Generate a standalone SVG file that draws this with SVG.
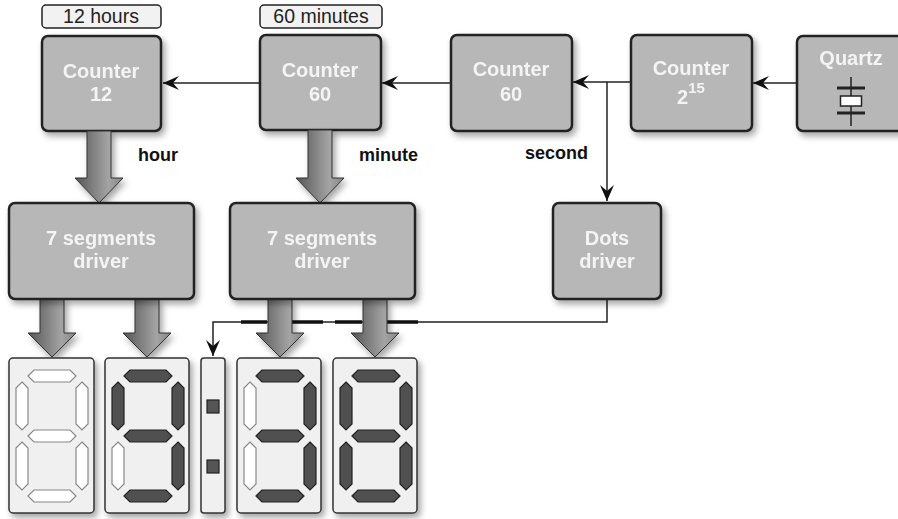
<svg xmlns="http://www.w3.org/2000/svg" width="898" height="519" viewBox="0 0 898 519">
<defs>
<style>
.box{fill:#b7b7b7;stroke:#222;stroke-width:2.5}
.lbl{fill:#f2f2f2;stroke:#222;stroke-width:1.5}
.bt{font-family:"Liberation Sans",Arial,sans-serif;font-weight:bold;font-size:20px;fill:#f4f4f4;text-anchor:middle}
.tt{font-family:"Liberation Sans",Arial,sans-serif;font-size:19.5px;fill:#222;text-anchor:middle}
.st{font-family:"Liberation Sans",Arial,sans-serif;font-weight:bold;font-size:18px;fill:#111}
.con{fill:none;stroke:#222;stroke-width:1.5}
.thk{stroke:#111;stroke-width:3.5}
.big{fill:url(#ag);stroke:#333;stroke-width:1}
.disp{fill:#f0f0f0;stroke:#333;stroke-width:1.5}
.on{fill:#505050;stroke:#222;stroke-width:1.2}
.off{fill:#ffffff;stroke:#888;stroke-width:1.2}
.dot{fill:#555;stroke:#222;stroke-width:1.2}
</style>
<filter id="sh" x="-20%" y="-20%" width="150%" height="150%">
<feDropShadow dx="3" dy="4" stdDeviation="3" flood-color="#000" flood-opacity="0.35"/>
</filter>
<linearGradient id="ag" x1="0" y1="0" x2="1" y2="0">
<stop offset="0" stop-color="#555"/>
<stop offset="0.7" stop-color="#a4a4a4"/>
<stop offset="1" stop-color="#858585"/>
</linearGradient>
<marker id="ah" markerUnits="userSpaceOnUse" markerWidth="20" markerHeight="20" viewBox="-18 -9 20 18" refX="0" refY="0" orient="auto">
<path d="M0,0 L-16,-7 L-10,0 L-16,7 Z" fill="#111"/>
</marker>
<polygon id="hs" points="0,6 6,0 42,0 48,6 42,12 6,12"/>
<polygon id="vs" points="6,0 12,6 12,42 6,48 0,42 0,6"/>
</defs>

<g id="connectors">
<line class="con" x1="797" y1="83" x2="753" y2="83" marker-end="url(#ah)"/>
<line class="con" x1="631" y1="82" x2="573" y2="82" marker-end="url(#ah)"/>
<line class="con" x1="607" y1="82" x2="607" y2="201" marker-end="url(#ah)"/>
<line class="con" x1="451" y1="83" x2="382" y2="83" marker-end="url(#ah)"/>
<line class="con" x1="260" y1="83" x2="163" y2="83" marker-end="url(#ah)"/>
<path class="con" d="M607,299 V322 H213 V356" marker-end="url(#ah)"/>
<line class="thk" x1="241" y1="322" x2="267" y2="322"/>
<line class="thk" x1="291" y1="322" x2="323" y2="322"/>
<line class="thk" x1="335" y1="322" x2="362" y2="322"/>
<line class="thk" x1="386" y1="322" x2="418" y2="322"/>
</g>

<g id="label-12hours">
<rect class="lbl" x="42" y="5" width="119" height="23" rx="4"/>
<text class="tt" x="101" y="23">12 hours</text>
</g>
<g id="label-60minutes">
<rect class="lbl" x="260" y="5" width="122" height="23" rx="4"/>
<text class="tt" x="321" y="23">60 minutes</text>
</g>

<g id="counter12" filter="url(#sh)">
<rect class="box" x="42" y="36" width="119" height="95" rx="6"/>
<text class="bt" x="101" y="78">Counter</text>
<text class="bt" x="101" y="101">12</text>
</g>
<g id="counter60min" filter="url(#sh)">
<rect class="box" x="260" y="35" width="121" height="95" rx="6"/>
<text class="bt" x="320" y="77">Counter</text>
<text class="bt" x="320" y="101">60</text>
</g>
<g id="counter60sec" filter="url(#sh)">
<rect class="box" x="451" y="35" width="121" height="96" rx="6"/>
<text class="bt" x="511" y="76">Counter</text>
<text class="bt" x="511" y="101">60</text>
</g>
<g id="counter215" filter="url(#sh)">
<rect class="box" x="631" y="35" width="121" height="96" rx="6"/>
<text class="bt" x="691" y="75">Counter</text>
<text class="bt" x="691" y="104">2<tspan font-size="15" dy="-11">15</tspan></text>
</g>
<g id="quartz" filter="url(#sh)">
<rect class="box" x="797" y="36" width="110" height="95" rx="6"/>
<text class="bt" x="851" y="65">Quartz</text>
<line x1="851" y1="77" x2="851" y2="126" stroke="#222" stroke-width="1.5"/>
<line x1="837" y1="88" x2="865" y2="88" stroke="#222" stroke-width="3"/>
<rect x="840.5" y="96" width="21" height="10" fill="#fff" stroke="#222" stroke-width="1.5"/>
<line x1="837" y1="113" x2="865" y2="113" stroke="#222" stroke-width="3"/>
</g>

<g id="signal-labels">
<text class="st" x="138" y="161">hour</text>
<text class="st" x="359" y="161">minute</text>
<text class="st" x="525" y="159">second</text>
</g>

<g id="big-arrows" filter="url(#sh)">
<path class="big" d="M87,131 H111 V178 H123 L99,203 L75,178 H87 Z"/>
<path class="big" d="M308,130 H332 V178 H344 L320,203 L296,178 H308 Z"/>
<path class="big" d="M40,299 H64 V333 H76 L52,357 L28,333 H40 Z"/>
<path class="big" d="M135,299 H159 V333 H171 L147,357 L123,333 H135 Z"/>
<path class="big" d="M268,299 H292 V333 H304 L280,357 L256,333 H268 Z"/>
<path class="big" d="M363,299 H387 V333 H399 L375,357 L351,333 H363 Z"/>
</g>

<g id="driver-hours" filter="url(#sh)">
<rect class="box" x="9" y="203" width="185" height="96" rx="6"/>
<text class="bt" x="101" y="245">7 segments</text>
<text class="bt" x="101" y="268">driver</text>
</g>
<g id="driver-minutes" filter="url(#sh)">
<rect class="box" x="230" y="203" width="185" height="96" rx="6"/>
<text class="bt" x="322" y="245">7 segments</text>
<text class="bt" x="322" y="268">driver</text>
</g>
<g id="dots-driver" filter="url(#sh)">
<rect class="box" x="553" y="203" width="108" height="96" rx="6"/>
<text class="bt" x="607" y="245">Dots</text>
<text class="bt" x="607" y="268">driver</text>
</g>

<g id="display1" transform="translate(9,358)">
<rect class="disp" x="0" y="0" width="85" height="155" rx="4" filter="url(#sh)"/>
<use href="#hs" class="off" x="19" y="12"/>
<use href="#hs" class="off" x="19" y="72"/>
<use href="#hs" class="off" x="19" y="132"/>
<use href="#vs" class="off" x="7" y="24"/>
<use href="#vs" class="off" x="67" y="24"/>
<use href="#vs" class="off" x="7" y="84"/>
<use href="#vs" class="off" x="67" y="84"/>
</g>
<g id="display2" transform="translate(105,358)">
<rect class="disp" x="0" y="0" width="84" height="155" rx="4" filter="url(#sh)"/>
<use href="#hs" class="on" x="19" y="12"/>
<use href="#hs" class="on" x="19" y="72"/>
<use href="#hs" class="on" x="19" y="132"/>
<use href="#vs" class="on" x="7" y="24"/>
<use href="#vs" class="on" x="67" y="24"/>
<use href="#vs" class="off" x="7" y="84"/>
<use href="#vs" class="on" x="67" y="84"/>
</g>
<g id="display-dots" transform="translate(201,358)">
<rect class="disp" x="0" y="0" width="24" height="155" rx="3" filter="url(#sh)"/>
<rect class="dot" x="6" y="42" width="12" height="13"/>
<rect class="dot" x="6" y="102" width="12" height="13"/>
</g>
<g id="display3" transform="translate(237,358)">
<rect class="disp" x="0" y="0" width="84" height="155" rx="4" filter="url(#sh)"/>
<use href="#hs" class="on" x="19" y="12"/>
<use href="#hs" class="on" x="19" y="72"/>
<use href="#hs" class="on" x="19" y="132"/>
<use href="#vs" class="off" x="7" y="24"/>
<use href="#vs" class="on" x="67" y="24"/>
<use href="#vs" class="off" x="7" y="84"/>
<use href="#vs" class="on" x="67" y="84"/>
</g>
<g id="display4" transform="translate(333,358)">
<rect class="disp" x="0" y="0" width="84" height="155" rx="4" filter="url(#sh)"/>
<use href="#hs" class="on" x="19" y="12"/>
<use href="#hs" class="on" x="19" y="72"/>
<use href="#hs" class="on" x="19" y="132"/>
<use href="#vs" class="on" x="7" y="24"/>
<use href="#vs" class="on" x="67" y="24"/>
<use href="#vs" class="on" x="7" y="84"/>
<use href="#vs" class="on" x="67" y="84"/>
</g>
</svg>
